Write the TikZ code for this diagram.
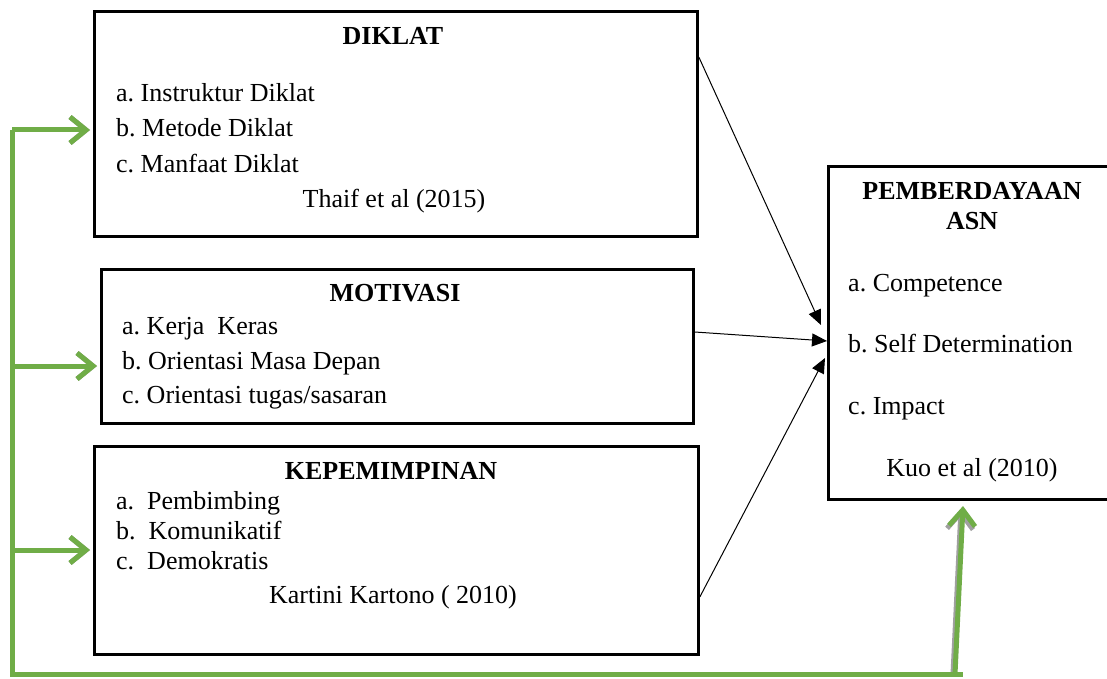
\documentclass[tikz,border=0pt]{standalone}
\usepackage{fontspec}
\setmainfont{Liberation Serif}
\usetikzlibrary{arrows.meta}
\definecolor{grn}{RGB}{112,173,71}
\definecolor{shd}{RGB}{160,160,160}
\frenchspacing
\begin{document}
\begin{tikzpicture}[x=1pt,y=-1pt,
  box/.style={draw=black,line width=2.8pt,inner sep=0pt,anchor=north west},
  txt/.style={font=\fontsize{26}{30}\selectfont,inner sep=0pt,text height=18pt,text depth=6pt,anchor=west},
  ctxt/.style={font=\fontsize{26}{30}\selectfont,inner sep=0pt,text height=18pt,text depth=6pt},
  ttl/.style={font=\fontsize{26}{30}\selectfont\bfseries,inner sep=0pt,text height=18pt,text depth=6pt},
  blk/.style={line width=1pt,-{Triangle[length=15pt,width=13pt]}},
  garrow/.style={line width=5pt,draw=grn,-{Straight Barb[length=16pt,width=26pt]}},
  gline/.style={line width=5pt,draw=grn},
  gshadow/.style={line width=5pt,draw=shd},
  gshadowarrow/.style={line width=5pt,draw=shd,-{Straight Barb[length=16pt,width=26pt]}},
]
\useasboundingbox (0,0) rectangle (1107,679);

% boxes
\node[box,minimum width=603pt,minimum height=225pt] (diklatbox) at (93,10) {};
\node[box,minimum width=592pt,minimum height=154pt] (motbox) at (100,268) {};
\node[box,minimum width=604pt,minimum height=208pt] (kepbox) at (93,445) {};
\node[box,minimum width=300pt,minimum height=333pt] (pembox) at (827,165) {};

% DIKLAT
\node[ttl] (t1) at (393,39) {DIKLAT};
\node[txt] (d1) at (116,96) {a. Instruktur Diklat};
\node[txt] (d2) at (116,131) {b. Metode Diklat};
\node[txt] (d3) at (116,166) {c. Manfaat Diklat};
\node[ctxt] (d4) at (394,201) {Thaif et al (2015)};

% MOTIVASI
\node[ttl] (t2) at (395,295) {MOTIVASI};
\node[txt] (m1) at (122,328) {a. Kerja\ \ Keras};
\node[txt] (m2) at (122,363) {b. Orientasi Masa Depan};
\node[txt] (m3) at (122,397) {c. Orientasi tugas/sasaran};

% KEPEMIMPINAN
\node[ttl] (t3) at (391,473) {KEPEMIMPINAN};
\node[txt] (k1) at (116,503) {a.\ \ Pembimbing};
\node[txt] (k2) at (116,533) {b.\ \ Komunikatif};
\node[txt] (k3) at (116,563) {c.\ \ Demokratis};
\node[ctxt] (k4) at (393,597) {Kartini Kartono ( 2010)};

% PEMBERDAYAAN ASN
\node[ttl] (t4a) at (972,194) {PEMBERDAYAAN};
\node[ttl] (t4b) at (972,223) {ASN};
\node[txt] (p1) at (848,285) {a. Competence};
\node[txt] (p2) at (848,346) {b. Self Determination};
\node[txt] (p3) at (848,408) {c. Impact};
\node[ctxt] (p4) at (972,470) {Kuo et al (2010)};

% black connectors
\draw[blk] ([yshift=-47pt]diklatbox.north east) -- ([xshift=-6pt,yshift=-160pt]pembox.north west);
\draw[blk] ([yshift=-64pt]motbox.north east) -- ([yshift=-176pt]pembox.north west);
\draw[blk] ([yshift=-152pt]kepbox.north east) -- ([xshift=-2pt,yshift=-193pt]pembox.north west);

% green feedback lines
\coordinate (gtop) at (12,130);
\coordinate (gmid) at (12,366);
\coordinate (glow) at (12,550);
\coordinate (gbl) at (12,674);
\coordinate (gbr) at (963,674);
\coordinate (gup) at (955,674);
\coordinate (gtip1) at (90,130);
\coordinate (gtip2) at (97,366);
\coordinate (gtip3) at (90,550);
\coordinate (gtip4) at (963,506);

\begin{scope}[shift={(-1,3)}]
\draw[gshadow] (gtop) -- (gbl) -- (gbr);
\draw[gshadowarrow] (gtop) -- (gtip1);
\draw[gshadowarrow] (gmid) -- (gtip2);
\draw[gshadowarrow] (glow) -- (gtip3);
\end{scope}
\draw[gshadowarrow] ([xshift=-2pt]gup) -- ([xshift=-2pt,yshift=-3pt]gtip4);

\draw[gline] (gtop) -- (gbl) -- (gbr);
\draw[garrow] (gtop) -- (gtip1);
\draw[garrow] (gmid) -- (gtip2);
\draw[garrow] (glow) -- (gtip3);
\draw[garrow] (gup) -- (gtip4);
\end{tikzpicture}
\end{document}
